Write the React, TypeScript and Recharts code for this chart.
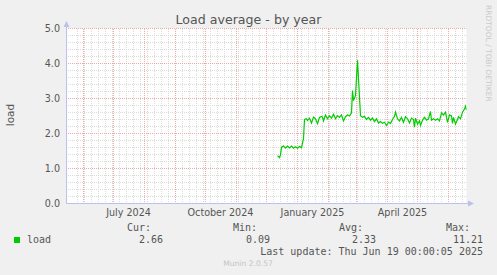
import React from "react";
import { LineChart, Line, XAxis, YAxis, ReferenceLine, CartesianGrid } from "recharts";

// x = days since May 15 2024 (400 day window ending Jun 19 2025)
const days = [
  211, 213, 214, 215, 217, 219, 221, 223, 225, 227, 229, 231, 233, 235, 237, 238, 240, 241, 243, 245,
  247, 249, 251, 253, 255, 256, 257, 259, 261, 263, 265, 267, 269, 271, 273, 275, 277, 279, 281, 283,
  285, 286, 287, 289, 291, 294, 296, 298, 300, 302, 304, 306, 308, 310, 312, 314, 316, 318, 320, 322,
  324, 326, 328, 329, 331, 333, 335, 337, 339, 341, 343, 345, 347, 348, 349, 351, 353, 354, 356, 358,
  360, 362, 364, 365, 367, 369, 371, 373, 375, 377, 379, 381, 383, 385, 386, 387, 389, 391, 392, 394,
  396, 398, 399, 400,
];
const loadValues = [
  1.37, 1.31, 1.39, 1.61, 1.64, 1.58, 1.64, 1.59, 1.64, 1.58, 1.62, 1.58, 1.63, 1.59, 1.85, 2.4, 2.42, 2.37, 2.44, 2.3,
  2.47, 2.42, 2.28, 2.46, 2.49, 2.47, 2.36, 2.53, 2.42, 2.51, 2.44, 2.55, 2.42, 2.51, 2.46, 2.53, 2.36, 2.48, 2.53, 2.5,
  2.59, 3.23, 2.94, 3.08, 4.09, 2.51, 2.46, 2.49, 2.4, 2.46, 2.38, 2.44, 2.34, 2.42, 2.3, 2.34, 2.29, 2.32, 2.23, 2.32,
  2.29, 2.4, 2.49, 2.61, 2.42, 2.36, 2.46, 2.32, 2.48, 2.42, 2.3, 2.44, 2.4, 2.18, 2.44, 2.27, 2.36, 2.23, 2.38, 2.46,
  2.38, 2.42, 2.63, 2.38, 2.42, 2.38, 2.42, 2.36, 2.59, 2.53, 2.61, 2.32, 2.53, 2.5, 2.29, 2.46, 2.27, 2.4, 2.48, 2.42,
  2.61, 2.7, 2.78, 2.67,
];

const monthLabelDays = [62, 154, 246, 336];
const monthLabels = ["July 2024", "October 2024", "January 2025", "April 2025"];
const monthStartDays = [17, 47, 78, 109, 139, 170, 200, 231, 262, 290, 321, 351, 382];
const weekStartDays = Array.from({ length: 56 }, (_, i) => 11 + i * 7);
const majorLoad = [0, 1, 2, 3, 4, 5];
const minorLoad = Array.from({ length: 26 }, (_, i) => Math.round(i * 2) / 10).filter((v) => v % 1 !== 0);

const legendName = "load";
const legendHeads = ["Cur:", "Min:", "Avg:", "Max:"];
const legendStats = ["2.66", "0.09", "2.33", "11.21"];
const lastUpdate = "Last update: Thu Jun 19 00:00:05 2025";

const data = days.map((d, i) => ({ day: d, load: loadValues[i] }));

const AXIS = "#bcc0ec";
const TEXT = "#555";
const SANS = "DejaVu Sans, sans-serif";
const MONO = "DejaVu Sans Mono, monospace";
const MINOR = "#dadada";
const MAJOR = "#eeaaaa";

const MonthTick = (props: any) => {
  const { x, y, payload } = props;
  const idx = monthLabelDays.indexOf(payload.value);
  return (
    <text x={x} y={y + 12.5} textAnchor="middle" fontSize={9.6} fontFamily={SANS} fill={TEXT}>
      {monthLabels[idx]}
    </text>
  );
};

const LoadTick = (props: any) => {
  const { y, payload } = props;
  return (
    <text x={60} y={y + 3} textAnchor="end" fontSize={9.6} fontFamily={SANS} fill={TEXT}>
      {payload.value.toFixed(1)}
    </text>
  );
};

export default function App() {
  const headRight = [151, 257, 363, 470];
  const statRight = [163, 270, 376, 483];
  const dots = { strokeDasharray: "1 1", strokeDashoffset: 0.5 };
  return (
    <div style={{ position: "absolute", left: 0, top: 0, width: 497, height: 275, background: "#f0f0f0" }}>
      <LineChart width={497} height={275} data={data} margin={{ top: 28.5, right: 30.5, left: 0.5, bottom: 0 }}>
        <CartesianGrid fill="#ffffff" horizontal={false} vertical={false} />
        {minorLoad.map((v) => (
          <ReferenceLine key={"hy" + v} y={v} stroke={MINOR} {...dots} />
        ))}
        {weekStartDays.map((d) => (
          <ReferenceLine key={"wx" + d} x={d} stroke={MINOR} {...dots} />
        ))}
        {majorLoad.map((v) => (
          <ReferenceLine key={"my" + v} y={v} stroke={MAJOR} {...dots} />
        ))}
        {monthStartDays.map((d) => (
          <ReferenceLine key={"mx" + d} x={d} stroke={MAJOR} {...dots} />
        ))}
        <XAxis
          dataKey="day"
          type="number"
          domain={[0, 400]}
          ticks={monthLabelDays}
          tick={<MonthTick />}
          tickLine={false}
          tickSize={0}
          tickMargin={0}
          height={71.5}
          axisLine={{ stroke: AXIS }}
          allowDataOverflow
        />
        <YAxis
          type="number"
          domain={[0, 5]}
          ticks={majorLoad}
          tick={<LoadTick />}
          tickLine={false}
          tickSize={0}
          width={66}
          axisLine={{ stroke: AXIS }}
        />
        <Line
          type="linear"
          dataKey="load"
          stroke="#00cc00"
          strokeWidth={1.2}
          dot={false}
          isAnimationActive={false}
        />
      </LineChart>

      <svg width={497} height={275} style={{ position: "absolute", left: 0, top: 0, pointerEvents: "none" }}>
        <line x1={66.5} y1={28.5} x2={66.5} y2={24} stroke={AXIS} />
        <polygon points="63.5,27 69.5,27 66.5,21" fill={AXIS} />
        <line x1={466.5} y1={203.5} x2={469} y2={203.5} stroke={AXIS} />
        <polygon points="468,200.5 468,206.5 474,203.5" fill={AXIS} />

        <text x={248.5} y={24} textAnchor="middle" fontSize={12.6} fontFamily={SANS} fill={TEXT}>
          Load average - by year
        </text>
        <text
          transform="translate(14,115) rotate(-90)"
          textAnchor="middle"
          fontSize={10.5}
          fontFamily={SANS}
          fill={TEXT}
        >
          load
        </text>
        <text
          transform="translate(486,5) rotate(90)"
          textAnchor="start"
          fontSize={7.5}
          fontFamily={SANS}
          fill="#cacaca"
        >
          RRDTOOL / TOBI OETIKER
        </text>

        {legendHeads.map((h, i) => (
          <text key={h} x={headRight[i]} y={231} textAnchor="end" fontSize={10} fontFamily={MONO} fill={TEXT}>
            {h}
          </text>
        ))}
        <rect x={14} y={237} width={6} height={6} fill="#00cc00" />
        <text x={27} y={243} fontSize={10} fontFamily={MONO} fill={TEXT}>
          {legendName}
        </text>
        {legendStats.map((s, i) => (
          <text key={i} x={statRight[i]} y={243} textAnchor="end" fontSize={10} fontFamily={MONO} fill={TEXT}>
            {s}
          </text>
        ))}
        <text x={483} y={255} textAnchor="end" fontSize={10} fontFamily={MONO} fill={TEXT}>
          {lastUpdate}
        </text>
        <text x={248} y={266} textAnchor="middle" fontSize={7.6} fontFamily={SANS} fill="#c4c4c4">
          Munin 2.0.57
        </text>
      </svg>
    </div>
  );
}
